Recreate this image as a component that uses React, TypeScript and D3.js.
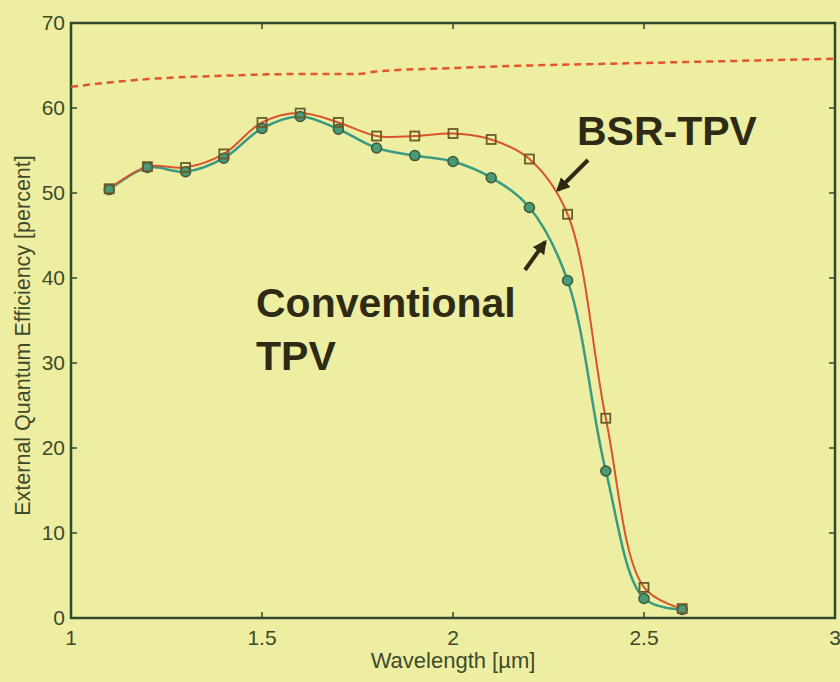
import React, { useEffect, useRef } from "react";
import * as d3 from "d3";

// wavelength in micrometres
const wavelengths = [1.1, 1.2, 1.3, 1.4, 1.5, 1.6, 1.7, 1.8, 1.9, 2.0, 2.1, 2.2, 2.3, 2.4, 2.5, 2.6];
const bsrTpv = [50.5, 53.1, 53.0, 54.6, 58.3, 59.4, 58.3, 56.7, 56.7, 57.0, 56.3, 54.0, 47.5, 23.5, 3.6, 1.1];
const conventionalTpv = [50.4, 53.0, 52.5, 54.1, 57.6, 59.0, 57.5, 55.3, 54.4, 53.7, 51.8, 48.3, 39.7, 17.3, 2.3, 1.0];

// dashed upper curve
const limitX = [1.0, 1.2, 1.4, 1.6, 1.75, 1.8, 2.0, 2.2, 2.5, 2.8, 3.0];
const limitY = [62.5, 63.4, 63.8, 64.0, 64.0, 64.3, 64.7, 65.0, 65.3, 65.6, 65.8];

const xTicks = [1, 1.5, 2, 2.5, 3];
const yTicks = [0, 10, 20, 30, 40, 50, 60, 70];

const W = 840;
const H = 682;
const margin = { left: 71, right: 5, top: 23, bottom: 64 };

const App = () => {
  const ref = useRef<SVGSVGElement>(null);

  useEffect(() => {
    const svg = d3.select(ref.current);
    svg.selectAll("*").remove();

    const x = d3.scaleLinear().domain([1, 3]).range([margin.left, W - margin.right]);
    const y = d3.scaleLinear().domain([0, 70]).range([H - margin.bottom, margin.top]);
    const axisColor = "#2f4a2c";
    const textColor = "#3e4a2a";

    svg.append("rect").attr("width", W).attr("height", H).attr("fill", "#eeeea2");

    const x0 = x(1), x1 = x(3), y0 = y(0), y1 = y(70);

    // ticks, pointing inward
    const tk = 6;
    const g = svg.append("g").attr("stroke", axisColor).attr("stroke-width", 1.5);
    xTicks.forEach((t) => {
      g.append("line").attr("x1", x(t)).attr("x2", x(t)).attr("y1", y0).attr("y2", y0 - tk);
      g.append("line").attr("x1", x(t)).attr("x2", x(t)).attr("y1", y1).attr("y2", y1 + tk);
    });
    yTicks.forEach((t) => {
      g.append("line").attr("x1", x0).attr("x2", x0 + tk).attr("y1", y(t)).attr("y2", y(t));
      g.append("line").attr("x1", x1).attr("x2", x1 - tk).attr("y1", y(t)).attr("y2", y(t));
    });

    // box
    svg.append("rect")
      .attr("x", x0).attr("y", y1).attr("width", x1 - x0).attr("height", y0 - y1)
      .attr("fill", "none").attr("stroke", axisColor).attr("stroke-width", 2.5);

    const font = "'Liberation Sans', Arial, sans-serif";
    svg.append("g").selectAll("text").data(xTicks).enter().append("text")
      .attr("x", (d) => x(d)).attr("y", y0 + 27)
      .attr("text-anchor", "middle").attr("font-family", font).attr("font-size", 21)
      .attr("fill", textColor).text((d) => String(d));
    svg.append("g").selectAll("text").data(yTicks).enter().append("text")
      .attr("x", x0 - 6).attr("y", (d) => y(d) + 7)
      .attr("text-anchor", "end").attr("font-family", font).attr("font-size", 21)
      .attr("fill", textColor).text((d) => String(d));

    svg.append("text").attr("x", (x0 + x1) / 2).attr("y", H - 14)
      .attr("text-anchor", "middle").attr("font-family", font).attr("font-size", 22)
      .attr("fill", textColor).text("Wavelength [\u00b5m]");
    svg.append("text")
      .attr("transform", `translate(30,${(y0 + y1) / 2 + 15}) rotate(-90)`)
      .attr("text-anchor", "middle").attr("font-family", font).attr("font-size", 21.5)
      .attr("fill", textColor).text("External Quantum Efficiency [percent]");

    // dashed top curve
    const limitPts = limitX.map((d, i) => [d, limitY[i]] as [number, number]);
    svg.append("path").datum(limitPts)
      .attr("d", d3.line().x((d) => x(d[0])).y((d) => y(d[1])).curve(d3.curveMonotoneX))
      .attr("fill", "none").attr("stroke", "#e2542a").attr("stroke-width", 2.5)
      .attr("stroke-dasharray", "7,5");

    const line = d3.line<number>()
      .x((_, i) => x(wavelengths[i])).y((d) => y(d))
      .curve(d3.curveCatmullRom.alpha(0.5));

    // conventional (green, circles)
    svg.append("path").datum(conventionalTpv).attr("d", line)
      .attr("fill", "none").attr("stroke", "#3a9a82").attr("stroke-width", 2.5);
    // BSR (red, squares)
    svg.append("path").datum(bsrTpv).attr("d", line)
      .attr("fill", "none").attr("stroke", "#d8542e").attr("stroke-width", 2);

    svg.append("g").selectAll("circle").data(conventionalTpv).enter().append("circle")
      .attr("cx", (_, i) => x(wavelengths[i])).attr("cy", (d) => y(d)).attr("r", 5)
      .attr("fill", "#4a9a78").attr("stroke", "#3f5a3a").attr("stroke-width", 1.5);
    const s = 9;
    svg.append("g").selectAll("rect").data(bsrTpv).enter().append("rect")
      .attr("x", (_, i) => x(wavelengths[i]) - s / 2).attr("y", (d) => y(d) - s / 2)
      .attr("width", s).attr("height", s)
      .attr("fill", "none").attr("stroke", "#6a5a2c").attr("stroke-width", 1.8);

    // annotations
    const label = (t: string, px: number, py: number) =>
      svg.append("text").attr("x", px).attr("y", py).attr("font-family", font)
        .attr("font-size", 41).attr("font-weight", "bold").attr("fill", "#2e2a14").text(t);
    label("BSR-TPV", 577, 145);
    label("Conventional", 256, 317);
    label("TPV", 256, 370);

    const defs = svg.append("defs");
    defs.append("marker").attr("id", "ah").attr("viewBox", "0 0 10 10")
      .attr("refX", 8).attr("refY", 5).attr("markerWidth", 3.5).attr("markerHeight", 3.5)
      .attr("orient", "auto")
      .append("path").attr("d", "M0,0 L10,5 L0,10 z").attr("fill", "#2e2a14");
    const arrow = (ax: number, ay: number, bx: number, by: number) =>
      svg.append("line").attr("x1", ax).attr("y1", ay).attr("x2", bx).attr("y2", by)
        .attr("stroke", "#2e2a14").attr("stroke-width", 4).attr("marker-end", "url(#ah)");
    arrow(588, 160, 558, 190);
    arrow(525, 270, 545, 242);
  }, []);

  return (
    <svg ref={ref} width={W} height={H}
      style={{ display: "block", position: "absolute", left: 0, top: 0 }} />
  );
};

export default App;
